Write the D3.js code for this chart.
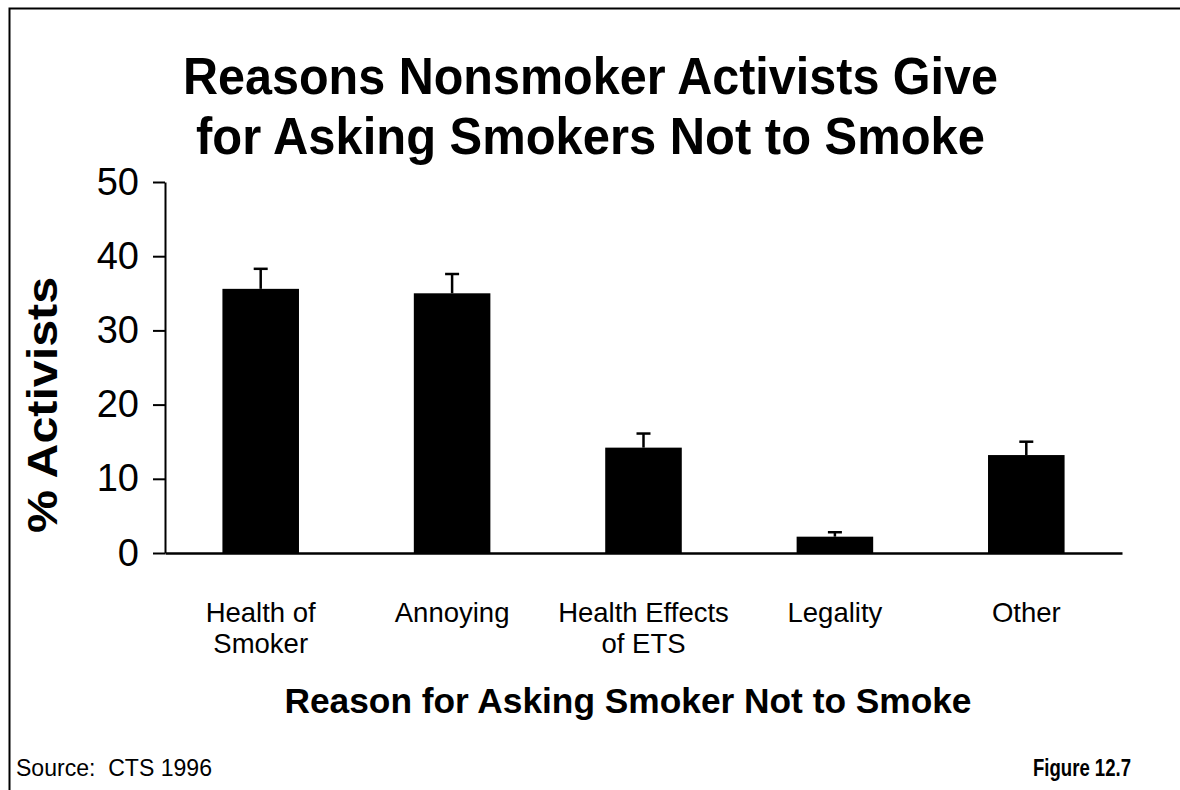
<!DOCTYPE html>
<html><head><meta charset="utf-8">
<script src="https://cdn.jsdelivr.net/npm/d3@7"></script>
<style>body{margin:0;background:#fff;} svg{display:block;font-family:"Liberation Sans",Arial,sans-serif;}</style>
</head><body>
<svg id="c" width="1180" height="790"></svg>
<script>
const categories = [["Health of","Smoker"],["Annoying"],["Health Effects","of ETS"],["Legality"],["Other"]];
const values = [35.6, 35.0, 14.2, 2.2, 13.2];
const errorTops = [38.3, 37.6, 16.1, 2.8, 15.0];
const yTicks = [0, 10, 20, 30, 40, 50];
const titleLines = ["Reasons Nonsmoker Activists Give", "for Asking Smokers Not to Smoke"];

const svg = d3.select("#c");
const W = 1180, H = 790;
svg.append("rect").attr("x",0).attr("y",0).attr("width",W).attr("height",H).attr("fill","#fff");
svg.append("path").attr("d", `M9.5,${H} L9.5,8.5 L${W},8.5`).attr("fill","none").attr("stroke","#000").attr("stroke-width",2);

const m = {l:165, r:1122, t:182, b:553};
const idx = d3.range(values.length);
const x = d3.scaleBand().domain(idx).range([m.l, m.r]).paddingInner(0.6).paddingOuter(0.3);
const y = d3.scaleLinear().domain([0,50]).range([m.b, m.t]);

// title
const tl = [{b:94, w:815}, {b:154, w:789}];
svg.append("g").selectAll("text").data(titleLines).join("text")
  .attr("x",590.5).attr("y",(d,i)=>tl[i].b).attr("text-anchor","middle")
  .attr("font-weight","bold").attr("font-size",52)
  .attr("textLength",(d,i)=>tl[i].w).attr("lengthAdjust","spacingAndGlyphs")
  .text(d=>d);

// bars
svg.append("g").selectAll("rect").data(idx).join("rect")
  .attr("x", i=>x(i)).attr("width", x.bandwidth())
  .attr("y", i=>y(values[i])).attr("height", i=>y(0)-y(values[i]))
  .attr("fill","#000");

// error bars
const eb = svg.append("g").attr("stroke","#000").attr("stroke-width",2.5);
eb.selectAll("line.v").data(idx).join("line").attr("class","v")
  .attr("x1", i=>x(i)+x.bandwidth()/2).attr("x2", i=>x(i)+x.bandwidth()/2)
  .attr("y1", i=>y(values[i])).attr("y2", i=>y(errorTops[i]));
eb.selectAll("line.c").data(idx).join("line").attr("class","c")
  .attr("x1", i=>x(i)+x.bandwidth()/2-7).attr("x2", i=>x(i)+x.bandwidth()/2+7)
  .attr("y1", i=>y(errorTops[i])).attr("y2", i=>y(errorTops[i]));

// y axis
const ya = svg.append("g").attr("transform",`translate(${m.l},0)`)
  .call(d3.axisLeft(y).tickValues(yTicks).tickSize(12).tickSizeOuter(0).tickPadding(14));
ya.select(".domain").attr("stroke-width",2);
ya.selectAll(".tick line").attr("stroke-width",2);
ya.selectAll(".tick text").attr("font-size",38).attr("font-family","Liberation Sans, Arial, sans-serif").attr("fill","#000");

// x axis line
const xa = svg.append("g").attr("transform",`translate(0,${m.b})`)
  .call(d3.axisBottom(x).tickSize(0).tickFormat(""));
xa.select(".domain").attr("stroke-width",2.5);

// x labels
svg.append("g").selectAll("text").data(idx).join("text")
  .attr("text-anchor","middle").attr("font-size",27.5)
  .each(function(i){
    d3.select(this).selectAll("tspan").data(categories[i]).join("tspan")
      .attr("x", x(i)+x.bandwidth()/2).attr("y",(d,j)=>622+j*31).text(d=>d);
  });

// axis titles
svg.append("text").attr("transform","translate(57,405) rotate(-90)").attr("text-anchor","middle")
  .attr("font-weight","bold").attr("font-size",42)
  .attr("textLength",256).attr("lengthAdjust","spacingAndGlyphs").text("% Activists");
svg.append("text").attr("x",628).attr("y",713).attr("text-anchor","middle")
  .attr("font-weight","bold").attr("font-size",35)
  .attr("textLength",687).attr("lengthAdjust","spacingAndGlyphs").text("Reason for Asking Smoker Not to Smoke");

// footer
svg.append("text").attr("x",16).attr("y",776).attr("font-size",24).style("white-space","pre")
  .attr("textLength",196).attr("lengthAdjust","spacingAndGlyphs").text("Source:  CTS 1996");
svg.append("text").attr("x",1131).attr("y",776).attr("text-anchor","end").attr("font-weight","bold").attr("font-size",24)
  .attr("textLength",98).attr("lengthAdjust","spacingAndGlyphs").text("Figure 12.7");
</script>
</body></html>
